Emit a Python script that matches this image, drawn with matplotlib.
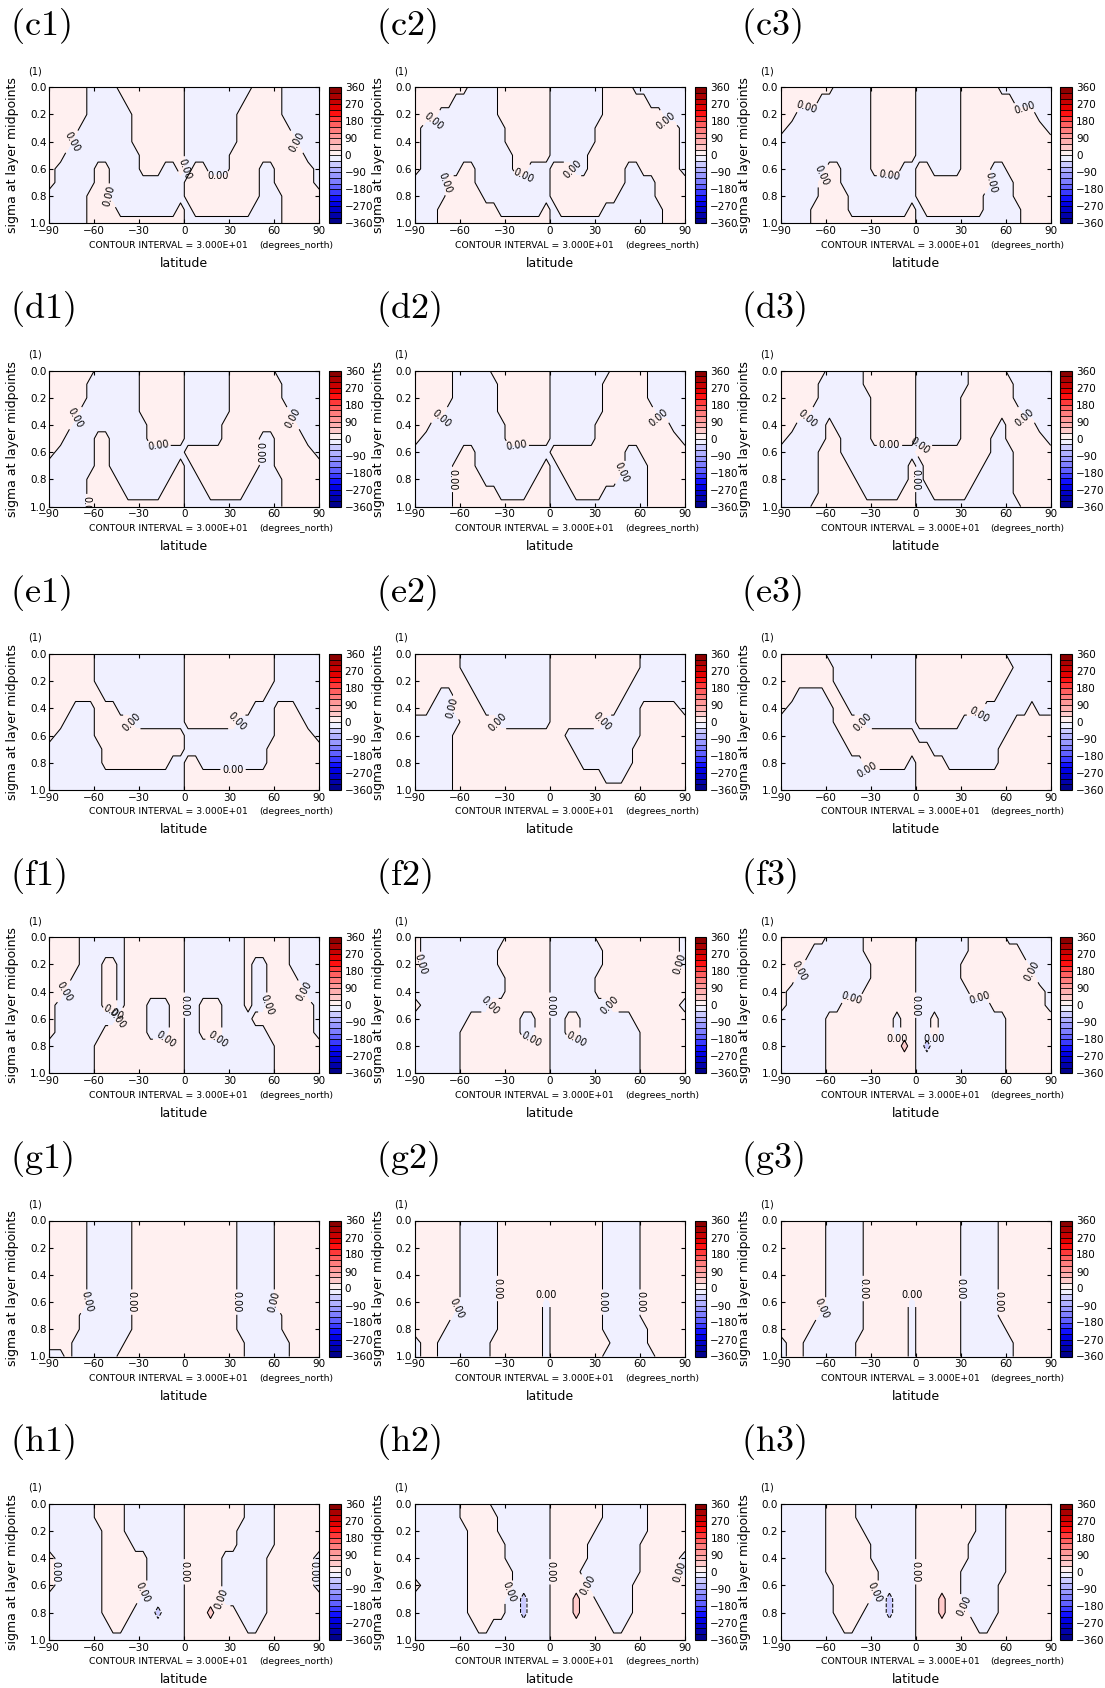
import numpy as np
import matplotlib
matplotlib.use('Agg')
import matplotlib.pyplot as plt

plt.rcParams['mathtext.fontset'] = 'cm'

# grid: latitude columns (edges at +-90) and sigma rows (0 at top)
lat = np.concatenate(([-90.0], np.arange(-82.5, 83, 5.0), [90.0]))
sigma = np.round(np.arange(0, 1.01, 0.1), 2)
levels = np.arange(-360, 361, 30)
cb_ticks = np.arange(-360, 361, 90)
sign_value = {'p': 10.0, 'b': -10.0, 'R': 45.0, 'B': -45.0}

# sign of the field: p = positive, b = negative, R/B = blobs
c1 = ["pppppb bbbppp pppppp bbbbbb bbbppp pbbbbb",
      "pppppb bbbbpp pppppp bbbbbb bbpppp pbbbbb",
      "pppppb bbbbbp pppppp bbbbbb bppppp pbbbbb",
      "ppppbb bbbbbp pppppp bbbbbb bppppp ppbbbb",
      "pppbbb bbbbbp pppppp bbbbbb bppppp pppbbb",
      "ppbbbb bbbbbb pppppp bbbbbb pppppp ppppbb",
      "pbbbbb ppbbbb pppbbp bppbbb ppppbb pppppb",
      "pbbbbb ppbbbb bbbbbb pppppp ppppbb pppppb",
      "bbbbbp ppbbbb bbbbbb pppppp ppppbb bppppp",
      "bbbbbp pppbbb bbbbbp bppppp pppbbb bppppp",
      "bbbbbp pppppp pppppp bbbbbb bbbbbb bppppp"]
c2 = ["pppppp pbbbbp pppppp bbbbbb bppppb bbbbbb",
      "pppppb bbbbbp pppppp bbbbbb bppppp pbbbbb",
      "pppbbb bbbbbp pppppp bbbbbb bppppp pppbbb",
      "pbbbbb bbbbbb pppppp bbbbbb pppppp pppppb",
      "pbbbbb bbbbbb pppppp bbbbbb pppppp pppppb",
      "pbbbbb bbbbbb bppppp bbbbbp pppppp pppppb",
      "pbbbbb ppbbbb bppbbb pppbbp ppppbb pppppb",
      "bbbbpp ppbbbb bbbbbb pppppp ppppbb bbpppp",
      "bbbbpp pppbbb bbbbbb pppppp pppbbb bbpppp",
      "bbbppp pppppb bbbbbp bppppp pbbbbb bbbppp",
      "bbbppp pppppp pppppp bbbbbb bbbbbb bbbppp"]
c3 = ["pppppp pbbbbb pppppp bbbbbb pppppb bbbbbb",
      "pppppb bbbbbb pppppp bbbbbb pppppp pbbbbb",
      "ppbbbb bbbbbb pppppp bbbbbb pppppp ppppbb",
      "pbbbbb bbbbbb pppppp bbbbbb pppppp pppppb",
      "bbbbbb bbbbbb pppppp bbbbbb pppppp pppppp",
      "bbbbbb bbbbbb pppppp bbbbbb pppppp pppppp",
      "bbbbbb ppbbbb ppppbb ppbbbb ppppbb pppppp",
      "bbbbbp ppbbbb bbbbbb pppppp ppppbb bppppp",
      "bbbbbp pppbbb bbbbbb pppppp pppbbb bppppp",
      "bbbbpp pppbbb bbbbbp bppppp pppbbb bbpppp",
      "bbbbpp pppppp pppppp bbbbbb bbbbbb bbpppp"]
d1 = ["pppppp bbbbbb pppppp bbbbbb pppppp bbbbbb",
      "pppppb bbbbbb pppppp bbbbbb pppppp pbbbbb",
      "pppppb bbbbbb pppppp bbbbbb pppppp pbbbbb",
      "ppppbb bbbbbb pppppp bbbbbb pppppp ppbbbb",
      "pppbbb bbbbbb bppppp bbbbbp pppppp pppbbb",
      "ppbbbb ppbbbb bppppp bbbbbp ppppbb ppppbb",
      "pbbbbb ppbbbb bbbbbb pppppp ppppbb pppppb",
      "bbbbbb ppbbbb bbbbbp bppppp ppppbb pppppp",
      "bbbbbp pppbbb bbbbpp bbpppp pppbbb bppppp",
      "bbbbbp ppppbb bbbppp bbbppp ppbbbb bppppp",
      "bbbbbp pppppp pppppp bbbbbb bbbbbb bppppp"]
d2 = ["pppppb bbbbpp pppppp bbbbbb bbpppp pbbbbb",
      "pppppb bbbbbp pppppp bbbbbb bppppp pbbbbb",
      "pppppb bbbbbp pppppp bbbbbb bppppp pbbbbb",
      "ppppbb bbbbbp pppppp bbbbbb bppppp ppbbbb",
      "ppbbbb bbbbbb pppppp bbbbbb pppppp ppppbb",
      "pbbbbb bbbbbb pppppp bbbbbb pppppp pppppb",
      "bbbbbb ppbbbb bbbbbb pppppp ppppbb pppppp",
      "bbbbbp ppbbbb bbbbbp bppppp ppppbb bppppp",
      "bbbbbp pppbbb bbbbpp bbpppp pppbbb bppppp",
      "bbbbbp pppppb bbbppp bbbppp pbbbbb bppppp",
      "bbbbbp pppppp pppppp bbbbbb bbbbbb bppppp"]
d3 = ["pppppp bbbbbp pppppp bbbbbb bppppp bbbbbb",
      "pppppb bbbbbp pppppp bbbbbb bppppp pbbbbb",
      "pppppb bbbbbb pppppp bbbbbb pppppp pbbbbb",
      "ppppbb bbbbbb pppppp bbbbbb pppppp ppbbbb",
      "ppbbbb pbbbbb pppppp bbbbbb pppppb ppppbb",
      "pbbbbb ppbbbb pppppp bbbbbb ppppbb pppppb",
      "bbbbbp ppbbbb bbbbbb pppppp ppppbb bppppp",
      "bbbbbp pppbbb bbbbbp bppppp pppbbb bppppp",
      "bbbbbp ppppbb bbbbbp bppppp ppbbbb bppppp",
      "bbbbbp pppppb bbbbpp bbpppp pbbbbb bppppp",
      "bbbbpp pppppp pppppp bbbbbb bbbbbb bbpppp"]
e1 = ["pppppp bbbbbb bbbbbb pppppp pppppp bbbbbb",
      "pppppp bbbbbb bbbbbb pppppp pppppp bbbbbb",
      "pppppp bbbbbb bbbbbb pppppp pppppp bbbbbb",
      "pppppp pbbbbb bbbbbb pppppp pppppb bbbbbb",
      "pppbbb pppbbb bbbbbb pppppp pppbbb pppbbb",
      "ppbbbb pppppb bbbbbb pppppp pbbbbb ppppbb",
      "pbbbbb pppppp pppppp bbbbbb bbbbbb pppppb",
      "bbbbbb bppppp pppppp bbbbbb bbbbbp pppppp",
      "bbbbbb bppppp ppppbb ppbbbb bbbbbp pppppp",
      "bbbbbb bbbbbb bbbbbb pppppp pppppp pppppp",
      "bbbbbb bbbbbb bbbbbb pppppp pppppp pppppp"]
e2 = ["pppppp bbbbbb bbbbbb pppppp pppppp bbbbbb",
      "pppppp bbbbbb bbbbbb pppppp pppppp bbbbbb",
      "pppppp pbbbbb bbbbbb pppppp pppppb bbbbbb",
      "pppbbp ppbbbb bbbbbb pppppp ppppbb bbbbbb",
      "ppbbbp pppbbb bbbbbb pppppp pppbbb pppppb",
      "bbbbbb pppppb bbbbbb pppppp pbbbbb pppppp",
      "bbbbbp pppppp pppppp ppbbbb bbbbbb pppppp",
      "bbbbbp pppppp pppppp pppbbb bbbbbp pppppp",
      "bbbbbp pppppp pppppp ppppbb bbbbbp pppppp",
      "bbbbbp pppppp pppppp pppppp pbbbpp pppppp",
      "bbbbbp pppppp pppppp pppppp pppppp pppppp"]
e3 = ["pppppp bbbbbb bbbbbb pppppp pppppp bbbbbb",
      "pppppp pbbbbb bbbbbb pppppp pppppp pbbbbb",
      "pppppp pbbbbb bbbbbb pppppp pppppp bbbbbb",
      "ppbbbb ppbbbb bbbbbb pppppp pppppb bbbbbb",
      "pbbbbb bppbbb bbbbbb pppppp pppbbb bbbpbb",
      "bbbbbb bppppb bbbbbb pppppp bbbbbb bppppp",
      "bbbbbb bbpppp pppppp bbbbbb bbbbbb pppppp",
      "bbbbbb bbbppp pppppp ppbbbb bbbbbp pppppp",
      "bbbbbb bbbbbp pppppb ppppbb bbbbbp pppppp",
      "bbbbbb bbbbbb bbbbbb pppppp pppppp pppppp",
      "bbbbbb bbbbbb bbbbbb pppppp pppppp pppppp"]
f1 = ["ppppbb bbbbpp pppppp bbbbbb bbpppp ppbbbb",
      "ppppbb bbbbpp pppppp bbbbbb bbpppp ppbbbb",
      "ppppbb bppbpp pppppp bbbbbb bbpbbp ppbbbb",
      "pppbbb bppbpp pppppp bbbbbb bbpbbp pppbbb",
      "ppbbbb bppbpp pppppp bbbbbb bbpbbp ppppbb",
      "pbbbbb bppbpp pbbbpp bbpppb bbpbbp pppppb",
      "pbbbbb bbbppp pbbbpp bbpppb bbbppp pppppb",
      "pbbbbb bppppp pbbbpp bbpppb bbbbbp pppppb",
      "bbbbbb pppppp pppppp bbbbbb bbbbbb pppppp",
      "bbbbbb pppppp pppppp bbbbbb bbbbbb pppppp",
      "bbbbbb pppppp pppppp bbbbbb bbbbbb pppppp"]
f2 = ["pbbbbb bbbbbb pppppp bbbbbb pppppp pppppb",
      "pbbbbb bbbbbp pppppp bbbbbb bppppp pppppb",
      "pbbbbb bbbbbp pppppp bbbbbb bppppp pppppb",
      "bbbbbb bbbbbb pppppp bbbbbb pppppp pppppp",
      "bbbbbb bbbbbb pppppp bbbbbb pppppp pppppp",
      "pbbbbb bbbbpp pppppp bbbbbb bbpppp pppppb",
      "bbbbbb bppppp ppbbpp bbppbb bbbbbp pppppp",
      "bbbbbb pppppp ppbbpp bbppbb bbbbbb pppppp",
      "bbbbbb pppppp pppppp bbbbbb bbbbbb pppppp",
      "bbbbbb pppppp pppppp bbbbbb bbbbbb pppppp",
      "bbbbbb pppppp pppppp bbbbbb bbbbbb pppppp"]
f3 = ["pppppp bbbbbp pppppp bbbbbb bppppp bbbbbb",
      "ppppbb bbbbbp pppppp bbbbbb bppppp ppbbbb",
      "pppbbb bbbbbb pppppp bbbbbb pppppp pppbbb",
      "ppbbbb bbbbbb pppppp bbbbbb pppppp ppppbb",
      "pbbbbb bbbbbp pppppp bbbbbb bppppp pppppb",
      "pbbbbb bbpppp pppppp bbbbbb bbbbpp pppppb",
      "bbbbbb pppppp pppbpp bbpbbb bbbbbb pppppp",
      "bbbbbb pppppp pppbpp bbpbbb bbbbbb pppppp",
      "bbbbbb pppppp ppppRp bBbbbb bbbbbb pppppp",
      "bbbbbb pppppp pppppp bbbbbb bbbbbb pppppp",
      "bbbbbb pppppp pppppp bbbbbb bbbbbb pppppp"]
g1 = ["pppppb bbbbbp pppppp pppppp pbbbbb pppppp"] * 7 + \
     ["ppppbb bbbbbp pppppp pppppp pbbbbb bppppp",
      "ppppbb bbbbbp pppppp pppppp pbbbbb bppppp",
      "pppbbb bbbbpp pppppp pppppp ppbbbb bbpppp",
      "bbpbbb bbbppp pppppp pppppp ppbbbb bbpppp"]
g2 = ["pppppp bbbbbp pppppp pppppp pbbbbb pppppp"] * 6 + \
     ["pppppp bbbbbp pppppb pppppp pbbbbb pppppp",
      "pppppb bbbbbp pppppb pppppp pbbbbb pppppp",
      "ppppbb bbbbbp pppppb pppppp pbbbbb bppppp",
      "bppbbb bbbbpp pppppb pppppp ppbbbb bppppp",
      "bppbbb bbbbpp pppppb pppppp pbbbbb bbpppp"]
g3 = ["pppppp bbbbbp pppppp pppppp bbbbbp pppppp"] * 6 + \
     ["pppppp bbbbbp pppppb pppppp bbbbbp pppppp",
      "pppppb bbbbbp pppppb pppppp bbbbbp pppppp",
      "ppppbb bbbbbp pppppb pppppp bbbbbb pppppp",
      "bppbbb bbbbpp pppppb pppppp bbbbbb bppppp",
      "bppbbb bbbbpp pppppb pppppp bbbbbb bppppp"]
h1 = ["bbbbbb ppppbb bbbbbb pppppp ppbbbb pppppp",
      "bbbbbb ppppbb bbbbbb pppppp ppbbbb pppppp",
      "bbbbbb bpppbb bbbbbb pppppp pbbbbb pppppp",
      "bbbbbb bppppb bbbbbb pppppp pbbbbb pppppp",
      "pbbbbb bppppp pbbbbb pppppb bbbbbp pppppb",
      "pbbbbb bppppp pbbbbb pppppb bbbbbp pppppb",
      "pbbbbb bppppp pbbbbb pppppb bbbbbp pppppb",
      "bbbbbb bppppp bbbbbb pppppb bbbbbp pppppp",
      "bbbbbb bppppb bbBbbb pppRpp pbbbbp pppppp",
      "bbbbbb bbppbb bbbbbb pppppp ppbbpp pppppp",
      "bbbbbb bbbbbb bbbbbb pppppp pppppp pppppp"]
h2 = ["bbbbbb ppppbb bbbbbb pppppp pbbbbb bppppp",
      "bbbbbb pppppb bbbbbb pppppp pbbbbb bppppp",
      "bbbbbb bppppb bbbbbb pppppp bbbbbb bppppp",
      "bbbbbb bppppp bbbbbb pppppb bbbbbb pppppp",
      "bbbbbb bppppp bbbbbb pppppb bbbbbb pppppb",
      "bbbbbb bppppp pbbbbb ppppbb bbbbbb pppppb",
      "pbbbbb bppppp pbbbbb pppppb bbbbbp pppppp",
      "bbbbbb bppppp bbBbbb pppRpp bbbbbp pppppp",
      "bbbbbb bppppp bbBbbb pppRpp pbbbbp pppppp",
      "bbbbbb bbppbb bbbbbb pppppp ppbbpp pppppp",
      "bbbbbb bbbbbb bbbbbb pppppp pppppp pppppp"]
h3 = ["bbbbbb ppppbb bbbbbb pppppp ppbbbb pppppp",
      "bbbbbb ppppbb bbbbbb pppppp ppbbbb pppppp",
      "bbbbbb pppppb bbbbbb pppppp ppbbbb pppppp",
      "bbbbbb pppppp bbbbbb pppppp pbbbbb pppppp",
      "bbbbbb pppppp bbbbbb pppppp pbbbbb pppppp",
      "bbbbbb pppppp pbbbbb pppppp bbbbbb pppppp",
      "bbbbbb bppppp pbbbbb pppppp bbbbbp pppppp",
      "bbbbbb bppppp bbBbbb pppRpp bbbbbp pppppp",
      "bbbbbb bppppb bbBbbb pppRpp pbbbbp pppppp",
      "bbbbbb bbppbb bbbbbb pppppp ppbbpp pppppp",
      "bbbbbb bbbbbb bbbbbb pppppp pppppp pppppp"]

panels = [[('c1', c1), ('c2', c2), ('c3', c3)],
          [('d1', d1), ('d2', d2), ('d3', d3)],
          [('e1', e1), ('e2', e2), ('e3', e3)],
          [('f1', f1), ('f2', f2), ('f3', f3)],
          [('g1', g1), ('g2', g2), ('g3', g3)],
          [('h1', h1), ('h2', h2), ('h3', h3)]]

reds = ['#fff0f0', '#ffcaca', '#ffb0b0', '#ff9898', '#ff7e7e', '#ff6060',
        '#ff3a3a', '#ff1010', '#e40000', '#c80000', '#aa0000', '#8c0000']
blues = ['#f0f0ff', '#cacaff', '#b0b0ff', '#9898ff', '#7e7eff', '#6060ff',
         '#3a3aff', '#1010ff', '#0000e4', '#0000c8', '#0000aa', '#00008c']
colors = blues[::-1] + reds


def field(rows):
    z = np.array([[sign_value[ch] for ch in r.replace(' ', '')] for r in rows])
    assert z.shape == (len(sigma), len(lat)), z.shape
    return z


W, H = 1105, 1688
fig = plt.figure(figsize=(W / 100, H / 100), dpi=100)
dx, dy = 365.7, 283.3

for r, row in enumerate(panels):
    for c, (name, rows) in enumerate(row):
        x0 = 49.3 + dx * c
        ytop = 87.3 + dy * r
        ax = fig.add_axes([x0 / W, 1 - (ytop + 136) / H, 270 / W, 136 / H])
        z = field(rows)
        cf = ax.contourf(lat, sigma, z, levels=levels, colors=colors)
        cs = ax.contour(lat, sigma, z, levels=[-30, 0, 30], colors='k', linewidths=0.75)
        ax.clabel(cs, levels=[0], fmt='%.2f', fontsize=7, inline=True, inline_spacing=2)
        ax.set_xlim(-90, 90)
        ax.set_ylim(1, 0)
        ax.set_xticks(np.arange(-90, 91, 30))
        ax.set_yticks(np.arange(0, 1.01, 0.2))
        ax.yaxis.set_major_formatter(plt.FormatStrFormatter('%.1f'))
        ax.tick_params(direction='in', length=3, labelsize=7.5, top=True, right=True, pad=2)
        for s in ax.spines.values():
            s.set_linewidth(0.8)

        cax = fig.add_axes([(329 + dx * c) / W, 1 - (ytop + 136) / H, 11.5 / W, 136 / H])
        cb = fig.colorbar(cf, cax=cax, ticks=cb_ticks, drawedges=True)
        cb.ax.tick_params(labelsize=7.5, length=0, pad=3)
        cb.outline.set_linewidth(0.8)
        cb.dividers.set_linewidth(0.6)

        fig.text((10 + dx * c) / W, 1 - (26 + dy * r) / H, r'$\mathrm{(%s)}$' % name,
                 fontsize=26, ha='left', va='center')
        fig.text((x0 - 21) / W, 1 - (ytop - 16) / H, '(1)', fontsize=7, ha='left', va='center')
        fig.text((13 + dx * c) / W, 1 - (ytop + 68) / H, 'sigma at layer midpoints',
                 rotation=90, fontsize=9, ha='center', va='center')
        fig.text((x0 + 40) / W, 1 - (ytop + 158) / H, 'CONTOUR INTERVAL = 3.000E+01',
                 fontsize=6.7, ha='left', va='center')
        fig.text((x0 + 284) / W, 1 - (ytop + 158) / H, '(degrees_north)',
                 fontsize=6.7, ha='right', va='center')
        fig.text((x0 + 135) / W, 1 - (ytop + 176) / H, 'latitude',
                 fontsize=9, ha='center', va='center')

fig.savefig('out.png', dpi=100)
